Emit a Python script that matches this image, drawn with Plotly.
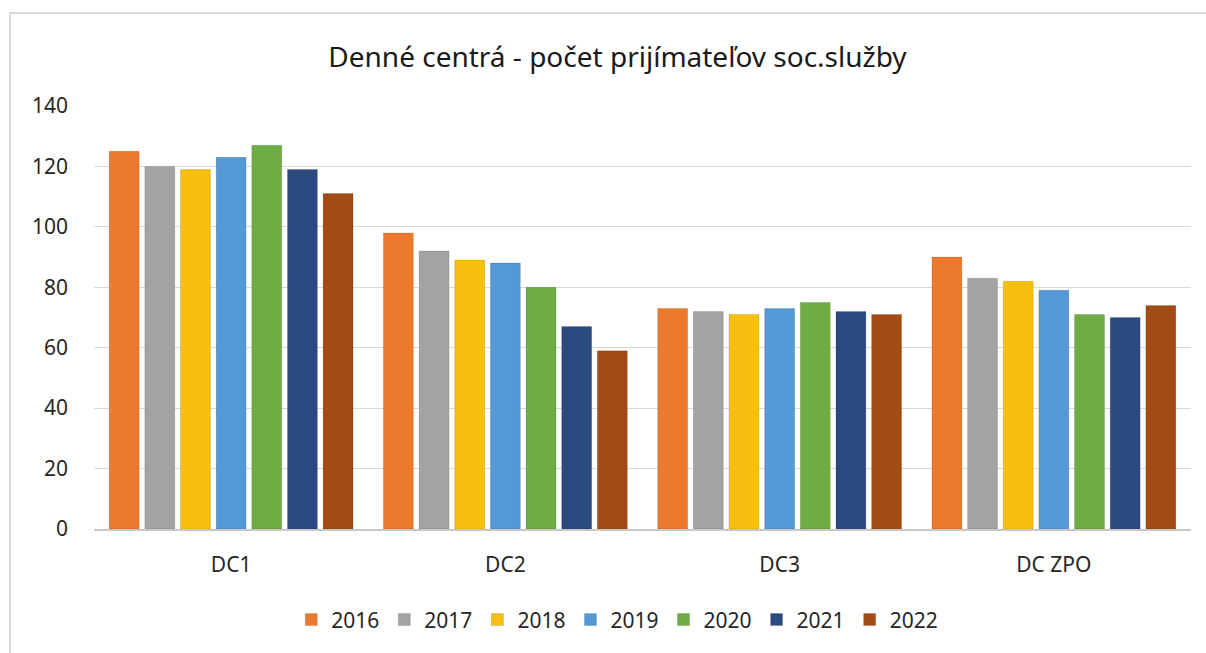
import plotly.graph_objects as go

categories = ["DC1", "DC2", "DC3", "DC ZPO"]
years = ["2016", "2017", "2018", "2019", "2020", "2021", "2022"]
v2016 = [125, 98, 73, 90]
v2017 = [120, 92, 72, 83]
v2018 = [119, 89, 71, 82]
v2019 = [123, 88, 73, 79]
v2020 = [127, 80, 75, 71]
v2021 = [119, 67, 72, 70]
v2022 = [111, 59, 71, 74]
series = [v2016, v2017, v2018, v2019, v2020, v2021, v2022]
colors = ["#EC7A2C", "#A3A3A3", "#F9BF0E", "#5598D6", "#6DAD44", "#2A4A80", "#A24B15"]

fig = go.Figure()
for y, vals, c in zip(years, series, colors):
    fig.add_trace(go.Bar(
        x=categories, y=vals, name=y,
        marker=dict(color=c, line=dict(color="rgba(0,0,0,0.12)", width=1)),
    ))

FONT = "Noto Sans"
fig.update_layout(
    width=1206, height=653,
    margin=dict(l=94, r=15, t=106, b=124),
    paper_bgcolor="white", plot_bgcolor="white",
    barmode="group", bargap=0.09, bargroupgap=0.16,
    title=dict(text="Denné centrá - počet prijímateľov soc.služby",
               x=0.512, xanchor="center", y=0.913, yanchor="middle",
               font=dict(family=FONT, size=28, color="#1a1a1a")),
    font=dict(family=FONT, size=21, color="#333333"),
    xaxis=dict(showgrid=False, showline=True, linecolor="#C8C8C8", linewidth=2,
               ticks="", ticklabelstandoff=16,
               tickfont=dict(family=FONT, size=21, color="#262626")),
    yaxis=dict(range=[0, 140], dtick=20, showgrid=True, gridcolor="#D9D9D9",
               gridwidth=1, zeroline=False, showline=False, ticks="",
               ticklabelstandoff=25,
               tickfont=dict(family=FONT, size=21, color="#262626")),
    legend=dict(orientation="h", x=0.477, xanchor="center", y=-0.215, yanchor="middle",
                font=dict(family=FONT, size=21, color="#262626"),
                itemwidth=30, traceorder="normal"),
    shapes=[dict(type="rect", xref="paper", yref="paper",
                 x0=-0.0766, y0=-0.7, x1=1.2, y1=1.2199,
                 line=dict(color="#D9D9D9", width=2), layer="below")],
)

fig.write_html("out.html", config={"displayModeBar": False},
               post_script="document.body.style.margin='0px';document.body.style.overflow='hidden';")
